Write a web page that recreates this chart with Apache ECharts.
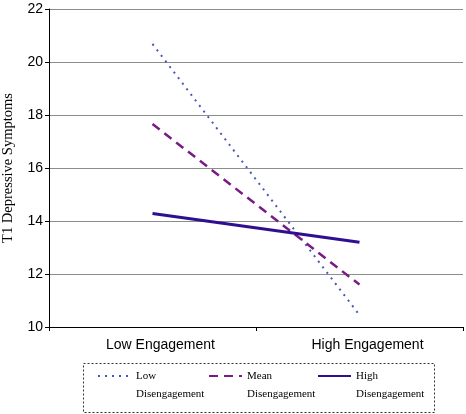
<!DOCTYPE html>
<html><head><meta charset="utf-8">
<script src="https://cdn.jsdelivr.net/npm/echarts@6/dist/echarts.min.js"></script>
<style>html,body{margin:0;padding:0;background:#fff}#c{width:466px;height:414px}</style>
</head><body><div id="c"></div>
<script>
const categories = ['Low Engagement', 'High Engagement'];
const seriesNames = ['Low Disengagement', 'Mean Disengagement', 'High Disengagement'];
const lowDis = [20.68, 10.45];
const meanDis = [17.66, 11.6];
const highDis = [14.28, 13.2];
const yTicks = [10, 12, 14, 16, 18, 20, 22];

const chart = echarts.init(document.getElementById('c'), null, {renderer: 'canvas'});
const serif = '"Liberation Serif", "Times New Roman", serif';
const sans = '"Liberation Sans", Arial, sans-serif';
const legendCommon = {
  itemWidth: 33, itemHeight: 14, itemGap: 5, top: 344, padding: 5,
  textStyle: {fontFamily: serif, fontSize: 11, color: '#000', lineHeight: 18},
  formatter: n => '\n' + n.replace(' ', '\n'),
  itemStyle: {opacity: 0},
  selectedMode: false
};
chart.setOption({
  animation: false,
  grid: {left: 49, right: 3, top: 9, bottom: 87, containLabel: false, outerBoundsMode: 'none'},
  xAxis: {
    type: 'category', data: categories, boundaryGap: true,
    axisLine: {lineStyle: {color: '#000', width: 1}},
    axisTick: {show: true, length: 4, lineStyle: {color: '#000'}},
    axisLabel: {fontFamily: sans, fontSize: 14, color: '#000', margin: 11, padding: [0, 0, 0, 16]}
  },
  yAxis: {
    type: 'value', min: yTicks[0], max: yTicks[yTicks.length - 1], interval: 2,
    name: 'T1 Depressive Symptoms', nameLocation: 'middle', nameGap: 33,
    nameTextStyle: {fontFamily: serif, fontSize: 14.5, color: '#000'},
    axisLine: {show: true, lineStyle: {color: '#000'}},
    axisTick: {show: true, length: 4, lineStyle: {color: '#000'}},
    axisLabel: {fontFamily: sans, fontSize: 14, color: '#000', margin: 6},
    splitLine: {show: true, lineStyle: {color: '#8a8f8c', width: 1}}
  },
  legend: [
    Object.assign({}, legendCommon, {data: [seriesNames[0]], left: 92}),
    Object.assign({}, legendCommon, {data: [seriesNames[1]], left: 203}),
    Object.assign({}, legendCommon, {data: [seriesNames[2]], left: 312})
  ],
  graphic: [{
    type: 'rect', shape: {x: 83.5, y: 363.5, width: 351, height: 49},
    style: {fill: 'none', stroke: '#333', lineWidth: 1, lineDash: [2, 2]}, z: 0
  }],
  series: [
    {name: seriesNames[0], type: 'line', data: lowDis, symbol: 'none',
     lineStyle: {color: '#4a57b5', width: 2, type: [2, 5]}, itemStyle: {color: '#4a57b5'}},
    {name: seriesNames[1], type: 'line', data: meanDis, symbol: 'none',
     lineStyle: {color: '#7a1a85', width: 2.5, type: [9, 6]}, itemStyle: {color: '#7a1a85'}},
    {name: seriesNames[2], type: 'line', data: highDis, symbol: 'none',
     lineStyle: {color: '#2f0f8f', width: 3, type: 'solid'}, itemStyle: {color: '#2f0f8f'}}
  ]
});
</script></body></html>
